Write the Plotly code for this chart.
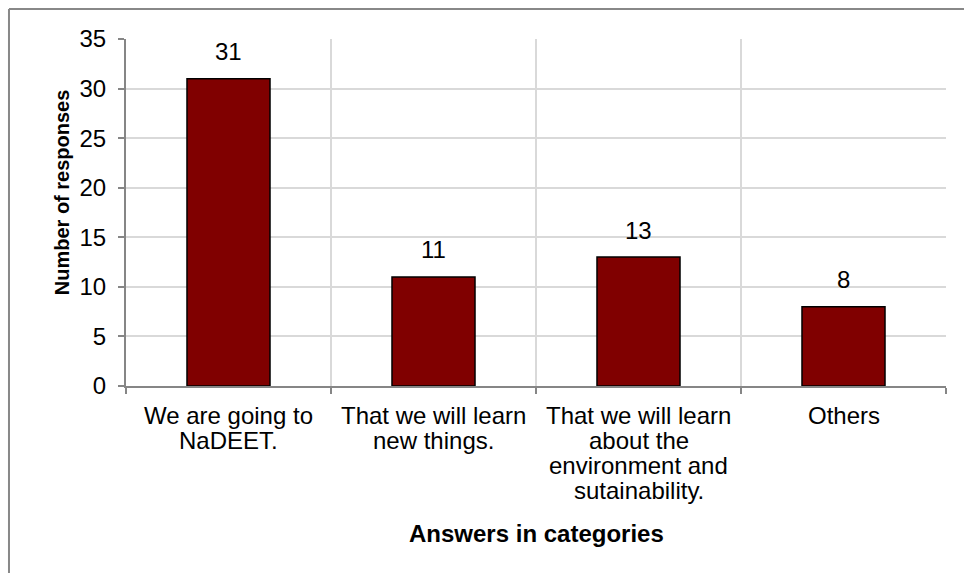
import plotly.graph_objects as go

categories = ["cat1", "cat2", "cat3", "cat4"]
category_lines = [
    ["We are going to", "NaDEET."],
    ["That we will learn", "new things."],
    ["That we will learn", "about the", "environment and", "sutainability."],
    ["Others"],
]
responses = [31, 11, 13, 8]
y_ticks = [0, 5, 10, 15, 20, 25, 30, 35]

FONT = "Liberation Sans, Arial, sans-serif"
GRID = "#d9d9d9"
AXIS = "#868686"
LINE_STEP = 25  # px between wrapped category label lines

fig = go.Figure(
    go.Bar(
        x=categories,
        y=responses,
        marker=dict(color="#800000", line=dict(color="#000000", width=1.5)),
        showlegend=False,
        hoverinfo="y",
    )
)

# value labels above each bar
for c, v in zip(categories, responses):
    fig.add_annotation(
        x=c, y=v, text=str(v), showarrow=False, yshift=27,
        font=dict(family=FONT, size=24, color="#000000"),
    )

# wrapped category labels under the axis, one line per annotation
for c, lines in zip(categories, category_lines):
    for i, line in enumerate(lines):
        fig.add_annotation(
            x=c, y=0, yref="y", text=line, showarrow=False,
            yshift=-29 - i * LINE_STEP, yanchor="middle",
            font=dict(family=FONT, size=24, color="#000000"),
        )

# axis titles
fig.add_annotation(
    xref="paper", yref="paper", x=0.5, y=-0.425, text="<b>Answers in categories</b>",
    showarrow=False, font=dict(family=FONT, size=24, color="#000000"),
    xanchor="center", yanchor="middle",
)
fig.add_annotation(
    xref="paper", yref="paper", x=-0.078, y=0.5585, text="<b>Number of responses</b>",
    showarrow=False, textangle=-90, font=dict(family=FONT, size=20, color="#000000"),
    xanchor="center", yanchor="middle",
)

# outer chart frame (top and left edges)
fig.add_shape(type="line", xref="paper", yref="paper", x0=-0.1427, x1=1.03, y0=1.0865, y1=1.0865,
              line=dict(color="#888888", width=2))
fig.add_shape(type="line", xref="paper", yref="paper", x0=-0.1427, x1=-0.1427, y0=1.0865, y1=-0.56,
              line=dict(color="#888888", width=2))

fig.update_layout(
    width=964,
    height=573,
    margin=dict(l=126, r=18, t=39, b=187),
    paper_bgcolor="#ffffff",
    plot_bgcolor="#ffffff",
    bargap=0.595,
    font=dict(family=FONT, size=24, color="#000000"),
    xaxis=dict(
        type="category",
        tickson="boundaries",
        showgrid=True,
        gridcolor=GRID,
        gridwidth=1.5,
        showline=True,
        linecolor=AXIS,
        linewidth=2,
        ticks="outside",
        ticklen=6,
        tickcolor=AXIS,
        tickwidth=1.5,
        showticklabels=False,
    ),
    yaxis=dict(
        range=[0, 35],
        tickvals=y_ticks,
        showgrid=True,
        gridcolor=GRID,
        gridwidth=1.5,
        showline=True,
        linecolor=AXIS,
        linewidth=2,
        ticks="outside",
        ticklen=6,
        tickcolor=AXIS,
        tickwidth=1.5,
        ticklabelstandoff=7,
        zeroline=False,
        tickfont=dict(family=FONT, size=24, color="#000000"),
    ),
)

fig.write_html("out.html")
